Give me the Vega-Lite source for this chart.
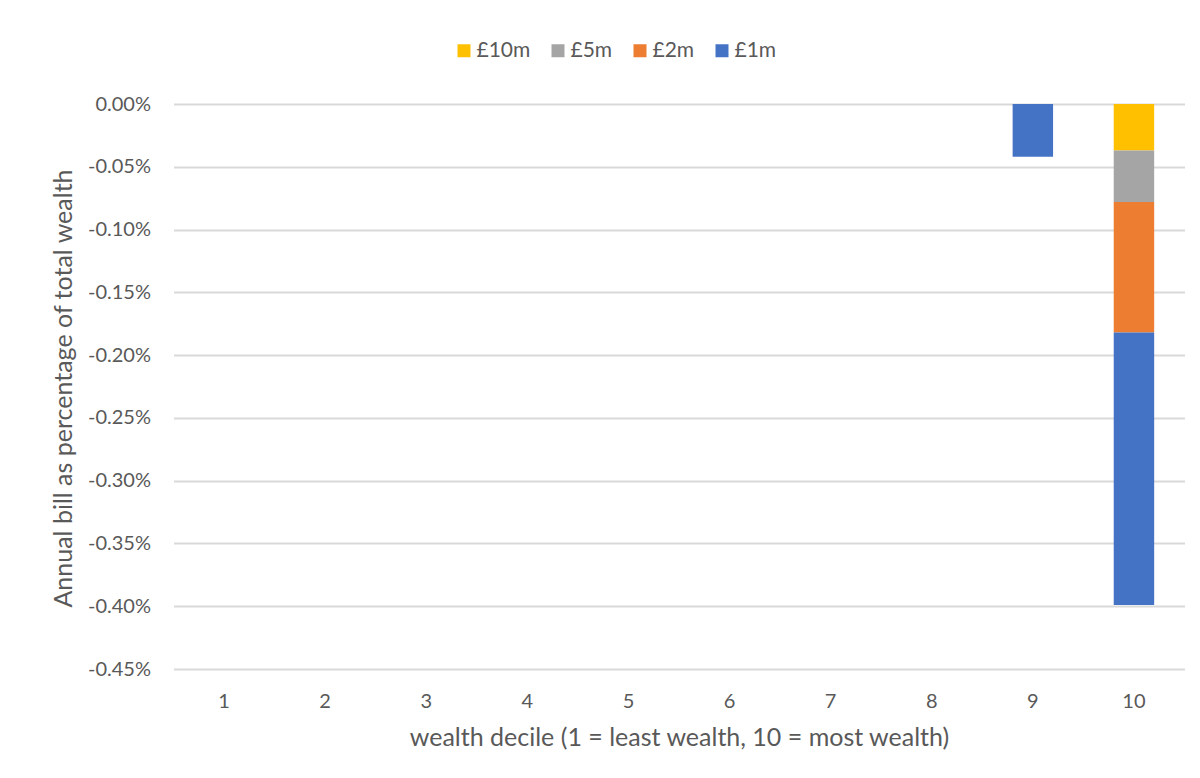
{
  "$schema": "https://vega.github.io/schema/vega-lite/v6.json",
  "autosize": {"type": "none"},
  "width": 1011,
  "height": 565,
  "padding": {"left": 173.5, "top": 104, "right": 15.5, "bottom": 109},
  "background": "white",
  "config": {
    "font": "Lato",
    "view": {"stroke": null},
    "axis": {
      "labelColor": "#595959",
      "titleColor": "#595959",
      "labelFontSize": 20,
      "titleFontWeight": "normal",
      "labelFont": "Lato",
      "titleFont": "Lato"
    },
    "legend": {
      "labelColor": "#595959",
      "labelFontSize": 21,
      "labelFont": "Lato"
    }
  },
  "data": {
    "values": [
      {"decile": "1", "band": "£1m", "seq": 4, "share": 0},
      {"decile": "2", "band": "£1m", "seq": 4, "share": 0},
      {"decile": "3", "band": "£1m", "seq": 4, "share": 0},
      {"decile": "4", "band": "£1m", "seq": 4, "share": 0},
      {"decile": "5", "band": "£1m", "seq": 4, "share": 0},
      {"decile": "6", "band": "£1m", "seq": 4, "share": 0},
      {"decile": "7", "band": "£1m", "seq": 4, "share": 0},
      {"decile": "8", "band": "£1m", "seq": 4, "share": 0},
      {"decile": "9", "band": "£1m", "seq": 4, "share": -0.00042},
      {"decile": "10", "band": "£10m", "seq": 1, "share": -0.00037},
      {"decile": "10", "band": "£5m", "seq": 2, "share": -0.00041},
      {"decile": "10", "band": "£2m", "seq": 3, "share": -0.00104},
      {"decile": "10", "band": "£1m", "seq": 4, "share": -0.00217}
    ]
  },
  "mark": {"type": "bar"},
  "encoding": {
    "x": {
      "field": "decile",
      "type": "ordinal",
      "sort": ["1", "2", "3", "4", "5", "6", "7", "8", "9", "10"],
      "scale": {"paddingInner": 0.6, "paddingOuter": 0.3},
      "title": "wealth decile (1 = least wealth, 10 = most wealth)",
      "axis": {
        "labelAngle": 0,
        "ticks": false,
        "domain": false,
        "labelPadding": 22,
        "titlePadding": 14,
        "titleFontSize": 25
      }
    },
    "y": {
      "field": "share",
      "type": "quantitative",
      "stack": "zero",
      "scale": {"domain": [-0.0045, 0], "nice": false},
      "title": "Annual bill as percentage of total wealth",
      "axis": {
        "format": ".2%",
        "labelExpr": "replace(datum.label, '−', '-')",
        "values": [0, -0.0005, -0.001, -0.0015, -0.002, -0.0025, -0.003, -0.0035, -0.004, -0.0045],
        "ticks": false,
        "domain": false,
        "labelPadding": 23,
        "titlePadding": 11,
        "titleFontSize": 25,
        "titleY": 284,
        "gridColor": "#D9D9D9",
        "gridWidth": 1.8
      }
    },
    "color": {
      "field": "band",
      "type": "nominal",
      "scale": {
        "domain": ["£10m", "£5m", "£2m", "£1m"],
        "range": ["#FFC000", "#A5A5A5", "#ED7D31", "#4472C4"]
      },
      "legend": {
        "title": null,
        "orient": "none",
        "direction": "horizontal",
        "legendX": 280,
        "legendY": -64,
        "symbolType": "square",
        "symbolSize": 169,
        "symbolStrokeWidth": 0,
        "labelOffset": 2,
        "columnPadding": 17
      }
    },
    "order": {"field": "seq", "type": "quantitative"}
  }
}
